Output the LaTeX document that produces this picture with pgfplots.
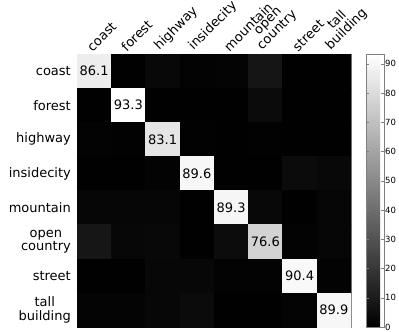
\documentclass[border=0pt]{standalone}
\usepackage{pgfplots}
\pgfplotsset{compat=1.18}
\usepackage{pgfplotstable}
\usepackage{fontspec}
\setmainfont{DejaVu Sans}
\pgfplotstableread{
x y v
0 0 86.1
1 0 0.5
2 0 3.0
3 0 1.0
4 0 1.5
5 0 7.5
6 0 0.3
7 0 0.3
0 1 0.3
1 1 93.3
2 1 0.5
3 1 0.5
4 1 0.5
5 1 4.0
6 1 0.5
7 1 0.4
0 2 1.0
1 2 0.8
2 2 83.1
3 2 0.8
4 2 0.5
5 2 0.8
6 2 0.5
7 2 0.5
0 3 0.5
1 3 0.5
2 3 1.0
3 3 89.6
4 3 0.5
5 3 0.5
6 3 4.0
7 3 3.0
0 4 2.0
1 4 2.0
2 4 2.0
3 4 0.5
4 4 89.3
5 4 3.0
6 4 0.5
7 4 2.0
0 5 8.0
1 5 2.5
2 5 3.0
3 5 0.5
4 5 4.5
5 5 76.6
6 5 1.0
7 5 2.0
0 6 0.5
1 6 0.5
2 6 2.5
3 6 2.5
4 6 1.0
5 6 1.0
6 6 90.4
7 6 1.0
0 7 1.5
1 7 1.5
2 7 2.5
3 7 4.0
4 7 0.5
5 7 0.5
6 7 1.5
7 7 89.9
}\cm
\pgfplotstableread{
x y lab
0 0 86.1
1 1 93.3
2 2 83.1
3 3 89.6
4 4 89.3
5 5 76.6
6 6 90.4
7 7 89.9
}\diag
\begin{document}
\begin{tikzpicture}
\begin{axis}[
  width=274pt, height=273pt, scale only axis,
  xmin=-0.5, xmax=7.5, ymin=-0.5, ymax=7.5,
  y dir=reverse,
  enlargelimits=false,
  axis line style={gray, line width=0.6pt},
  colormap={bw}{gray(0cm)=(0); gray(1cm)=(1)},
  point meta min=0, point meta max=93.3,
  xtick={0,...,7}, ytick={0,...,7},
  major tick length=0pt,
  xticklabel pos=right,
  xticklabels={coast,forest,highway,insidecity,mountain,{open\\country},street,{tall\\building}},
  yticklabels={coast,forest,highway,insidecity,mountain,{open\\country},street,{tall\\building}},
  xticklabel style={rotate=45, anchor=south west, align=center, font=\fontsize{13}{13}\selectfont, inner sep=1pt, xshift=-1pt, yshift=1pt},
  yticklabel style={align=center, font=\fontsize{13}{13.5}\selectfont, inner sep=1pt, xshift=-5pt},
  colorbar right,
  colorbar shift/.style={xshift=15pt},
  colorbar style={
    at={(parent axis.north east)}, anchor=north west,
    width=18pt,
    ytick={0,10,...,90},
    yticklabel pos=right,
    ytick pos=both,
    major tick length=3pt,
    tick style={gray},
    axis line style={gray},
    yticklabel style={font=\fontsize{8.5}{9}\selectfont, inner sep=1pt, xshift=0pt},
    /pgf/number format/assume math mode=true,
  },
]
\addplot[matrix plot*, mesh/cols=8, point meta=explicit] table[x=x, y=y, meta=v]{\cm};
\addplot[draw=none, nodes near coords, point meta=explicit symbolic,
  nodes near coords style={anchor=center, black, font=\fontsize{13}{13}\selectfont}]
  table[x=x, y=y, meta=lab]{\diag};
\coordinate (ll) at (axis cs:-0.5,7.5);
\end{axis}
\pgfresetboundingbox
\path (ll) ++(-77pt,-5pt) rectangle ++(399pt,332pt);
\end{tikzpicture}
\end{document}
